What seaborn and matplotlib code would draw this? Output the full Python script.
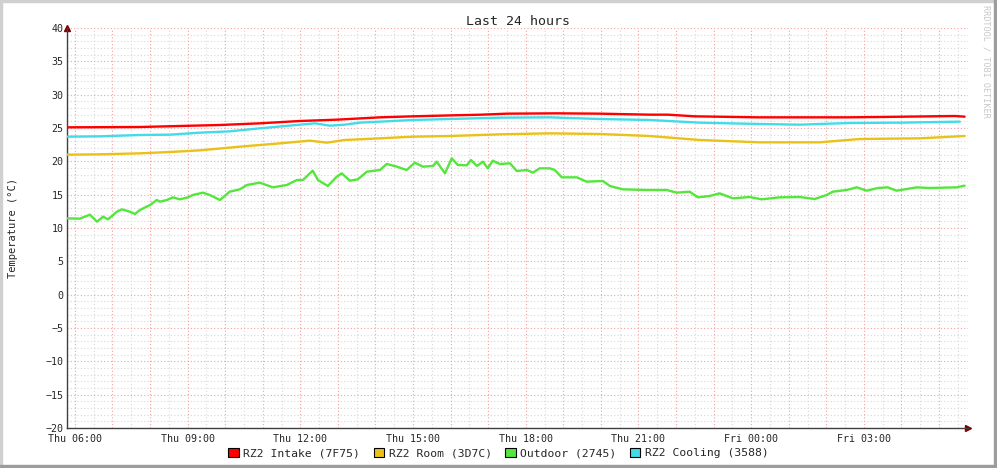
import matplotlib
matplotlib.use("Agg")
import matplotlib.pyplot as plt
import matplotlib.patches as mpatches
import seaborn as sns
import numpy as np
import pandas as pd

# hours counted from Thu 00:00
intake_t = [5.79, 7.73, 8.79, 9.86, 10.92, 11.99, 12.97, 14.12, 14.99, 16.06, 16.83, 17.50, 18.83,
            19.97, 21.30, 21.78, 22.50, 24.17, 26.54, 27.42, 29.42, 29.68]
intake_v = [25.1, 25.15, 25.3, 25.45, 25.7, 26.05, 26.25, 26.6, 26.75, 26.9, 27.0, 27.15, 27.2,
            27.15, 27.0, 27.0, 26.75, 26.6, 26.6, 26.65, 26.8, 26.7]

room_t = [5.79, 6.67, 7.73, 8.53, 9.33, 10.39, 11.46, 12.25, 12.71, 13.18, 14.12, 14.99, 15.98,
          17.31, 18.64, 19.97, 21.30, 22.63, 24.23, 25.82, 26.89, 28.49, 29.68]
room_v = [21.0, 21.05, 21.2, 21.4, 21.65, 22.2, 22.7, 23.1, 22.8, 23.2, 23.45, 23.7, 23.8,
          24.05, 24.2, 24.1, 23.8, 23.2, 22.85, 22.85, 23.35, 23.45, 23.8]

outdoor_t = [5.79, 6.13, 6.40, 6.59, 6.75, 6.88, 7.12, 7.25, 7.46, 7.60, 7.73, 8.00, 8.18, 8.26,
             8.45, 8.61, 8.79, 9.01, 9.14, 9.41, 9.59, 9.86, 10.12, 10.39, 10.58, 10.92, 11.27,
             11.64, 11.91, 12.07, 12.33, 12.47, 12.73, 12.97, 13.10, 13.32, 13.53, 13.77, 14.12,
             14.30, 14.57, 14.83, 15.05, 15.26, 15.53, 15.63, 15.85, 16.03, 16.19, 16.43, 16.54,
             16.70, 16.86, 16.99, 17.12, 17.31, 17.58, 17.76, 18.03, 18.19, 18.37, 18.64, 18.77,
             18.96, 19.36, 19.62, 20.05, 20.24, 20.58, 21.22, 21.75, 22.02, 22.36, 22.58, 22.90,
             23.16, 23.51, 23.96, 24.28, 24.76, 25.29, 25.69, 26.01, 26.17, 26.54, 26.81, 27.08,
             27.37, 27.63, 27.87, 28.41, 28.75, 29.47, 29.68]
outdoor_v = [11.45, 11.4, 12.0, 10.95, 11.7, 11.3, 12.45, 12.8, 12.45, 12.1, 12.7, 13.45, 14.2, 13.95,
             14.2, 14.6, 14.3, 14.6, 14.95, 15.3, 14.95, 14.2, 15.45, 15.8, 16.45, 16.8, 16.1,
             16.45, 17.2, 17.2, 18.6, 17.2, 16.3, 17.7, 18.2, 17.1, 17.3, 18.45, 18.7,
             19.6, 19.2, 18.7, 19.8, 19.2, 19.3, 19.95, 18.2, 20.45, 19.45, 19.4, 20.2,
             19.3, 19.95, 18.95, 20.1, 19.6, 19.7, 18.55, 18.7, 18.3, 18.95, 18.95, 18.7,
             17.6, 17.6, 16.95, 17.05, 16.3, 15.8, 15.7, 15.7, 15.3, 15.45, 14.6, 14.8,
             15.2, 14.45, 14.65, 14.3, 14.6, 14.65, 14.35, 14.95, 15.45, 15.7, 16.1, 15.6,
             16.0, 16.1, 15.6, 16.1, 16.0, 16.1, 16.35]

cooling_t = [5.79, 6.67, 7.73, 8.53, 9.33, 10.12, 10.92, 11.99, 12.39, 12.79, 13.18, 13.58, 14.99,
             15.98, 17.31, 18.64, 19.97, 21.30, 22.63, 24.23, 25.29, 26.62, 27.95, 29.55]
cooling_v = [23.7, 23.75, 23.95, 24.0, 24.3, 24.5, 24.95, 25.5, 25.7, 25.35, 25.5, 25.8, 26.2,
             26.35, 26.55, 26.6, 26.35, 26.2, 25.8, 25.6, 25.5, 25.75, 25.8, 25.95]

series_names = ["RZ2 Intake (7F75)", "RZ2 Room (3D7C)", "Outdoor (2745)", "RZ2 Cooling (3588)"]
series_colors = ["#ff0000", "#eac117", "#54e63c", "#44dbe8"]

tick_hours = [6, 9, 12, 15, 18, 21, 24, 27]
tick_labels = ["Thu 06:00", "Thu 09:00", "Thu 12:00", "Thu 15:00", "Thu 18:00", "Thu 21:00",
               "Fri 00:00", "Fri 03:00"]

frames = []
for name, t, v in [(series_names[0], intake_t, intake_v), (series_names[1], room_t, room_v),
                   (series_names[2], outdoor_t, outdoor_v), (series_names[3], cooling_t, cooling_v)]:
    frames.append(pd.DataFrame({"hour": t, "temp": v, "sensor": name}))
df = pd.concat(frames, ignore_index=True)

sns.set_style("white")
mono = "DejaVu Sans Mono"
plt.rcParams["font.family"] = [mono]

fig = plt.figure(figsize=(9.97, 4.68), dpi=100)
ax = fig.add_axes([67 / 997, 1 - 428 / 468, (968 - 67) / 997, 400 / 468])

# grid
minor_c = "#d8d8d8"
major_c = "#f4a0a0"
for h in np.arange(6.0, 29.8, 0.5):
    if h % 1 != 0:
        ax.axvline(h, color=minor_c, lw=0.8, ls=(0, (1, 2)), zorder=0)
for h in np.arange(6, 30, 1):
    ax.axvline(h, color=major_c, lw=0.8, ls=(0, (1, 2)), zorder=0.5)
for y in range(-20, 41):
    if y % 5 != 0:
        ax.axhline(y, color=minor_c, lw=0.8, ls=(0, (1, 2)), zorder=0)
    else:
        ax.axhline(y, color=major_c, lw=0.8, ls=(0, (1, 2)), zorder=0.5)

sns.lineplot(data=df, x="hour", y="temp", hue="sensor", palette=series_colors,
             hue_order=series_names, lw=1.7, legend=False,
             ax=ax, zorder=3, estimator=None, sort=True)

ax.set_xlim(5.79, 29.77)
ax.set_ylim(-20, 40)
ax.set_xticks(tick_hours)
ax.set_xticklabels(tick_labels)
ax.set_xticks(np.arange(6.0, 29.8, 1.0), minor=True)
ax.set_yticks(range(-20, 41, 5))
ax.set_yticks(range(-20, 41, 1), minor=True)
ax.tick_params(axis="x", which="major", labelsize=7.2, length=3, direction="inout",
               color="#404040", pad=3)
ax.tick_params(axis="y", which="major", labelsize=7.2, length=3, direction="inout",
               color="#404040", pad=1)
ax.tick_params(axis="both", which="minor", length=2, direction="out", color="#404040")
ax.set_xlabel("")
ax.set_ylabel("Temperature (°C)", fontsize=7.5, labelpad=20)
ax.set_title("Last 24 hours", fontsize=9.5, pad=2)

for s in ["top", "right"]:
    ax.spines[s].set_visible(False)
for s in ["left", "bottom"]:
    ax.spines[s].set_color("#404040")
    ax.spines[s].set_linewidth(1.0)

# axis arrows
ax.plot([0], [1.0], marker="^", color="#800000", ms=4, transform=ax.transAxes, clip_on=False)
ax.plot([1.0], [0], marker=">", color="#800000", ms=4, transform=ax.transAxes, clip_on=False)

handles = [mpatches.Patch(facecolor=c, edgecolor="black", lw=0.8) for c in series_colors]
fig.legend(handles, series_names, loc="center", bbox_to_anchor=(0.5, 1 - 453 / 468), ncol=4,
           frameon=False, fontsize=8.2, handlelength=0.9, handleheight=0.9, handletextpad=0.4,
           columnspacing=1.2, borderaxespad=0)

fig.text(986 / 997, 1 - 5 / 468, "RRDTOOL / TOBI OETIKER", rotation=270, ha="center", va="top",
         fontsize=6.1, color="#c8c8c8")

# frame around the canvas
fig.patches.append(mpatches.Rectangle((0, 0), 2 / 997, 1, transform=fig.transFigure,
                                      color="#d0d0d0", zorder=10))
fig.patches.append(mpatches.Rectangle((0, 1 - 2 / 468), 1, 2 / 468, transform=fig.transFigure,
                                      color="#d0d0d0", zorder=10))
fig.patches.append(mpatches.Rectangle((1 - 3 / 997, 0), 3 / 997, 1, transform=fig.transFigure,
                                      color="#9c9c9c", zorder=10))
fig.patches.append(mpatches.Rectangle((0, 0), 1, 3 / 468, transform=fig.transFigure,
                                      color="#9c9c9c", zorder=10))

fig.savefig("out.png", dpi=100)
